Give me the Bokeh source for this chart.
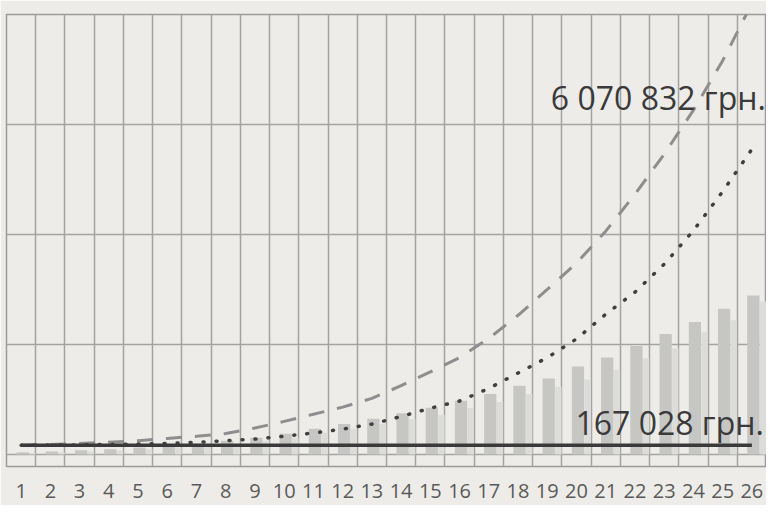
from bokeh.plotting import figure
from bokeh.models import ColumnDataSource, FixedTicker, Label, Range1d
from bokeh.transform import dodge
from bokeh.embed import file_html
from bokeh.resources import INLINE

# ---- data ----
years = list(range(1, 27))
annual = [167028, 167028, 167028, 167028, 167028, 167028, 167028, 167028, 167028,
          167028, 167028, 167028, 167028, 167028, 167028, 167028, 167028, 167028,
          167028, 167028, 167028, 167028, 167028, 167028, 167028, 167028]
bars_main = [40000, 55000, 75000, 95000, 125000, 160000, 200000, 250000, 305000, 375000,
             465000, 555000, 650000, 750000, 850000, 975000, 1100000, 1250000, 1380000,
             1600000, 1760000, 1970000, 2190000, 2410000, 2650000, 2890000]
bars_light = [20000, 35000, 55000, 70000, 95000, 125000, 160000, 200000, 250000, 305000,
              395000, 470000, 555000, 640000, 715000, 845000, 955000, 1100000, 1230000,
              1360000, 1540000, 1750000, 1930000, 2220000, 2440000, 2780000]
dotted = [167028, 170000, 174000, 180000, 188000, 200000, 220000, 250000, 280000, 330000,
          390000, 460000, 550000, 690000, 840000, 970000, 1200000, 1480000, 1760000,
          2100000, 2550000, 2950000, 3460000, 4070000, 4780000, 5550000]
dashed = [167028, 180000, 200000, 220000, 250000, 290000, 330000, 380000, 480000, 600000,
          730000, 860000, 1020000, 1250000, 1500000, 1760000, 2110000, 2530000, 3000000,
          3480000, 4060000, 4730000, 5460000, 6260000, 7160000, 8200000]
y_ticks = [0, 2000000, 4000000, 6000000, 8000000]
top_value = 6070832
base_value = 167028

def fmt(v):
    return f"{v:,}".replace(",", " ") + " грн."

src = ColumnDataSource(dict(x=years, a=bars_main, b=bars_light, d=dotted, s=dashed, c=annual))

bg = "#edece8"
p = figure(width=766, height=505, output_backend="svg", toolbar_location=None,
           x_range=Range1d(years[0] - 0.5, years[-1] + 0.5),
           y_range=Range1d(-220000, y_ticks[-1]),
           min_border_left=6, min_border_right=0, min_border_top=14, min_border_bottom=39,
           background_fill_color=bg, border_fill_color=bg)

p.outline_line_color = "#9a9a9a"
p.outline_line_width = 1.5

p.xgrid.ticker = FixedTicker(ticks=[y - 0.5 for y in years] + [years[-1] + 0.5])
p.ygrid.ticker = FixedTicker(ticks=y_ticks)
p.xgrid.grid_line_color = "#a3a3a3"
p.ygrid.grid_line_color = "#a3a3a3"
p.xgrid.grid_line_width = 1.5
p.ygrid.grid_line_width = 1.5

p.yaxis.visible = False
p.xaxis.ticker = FixedTicker(ticks=years)
p.xaxis.axis_line_color = None
p.xaxis.major_tick_line_color = None
p.xaxis.minor_tick_line_color = None
p.xaxis.major_tick_out = 0
p.xaxis.major_label_standoff = 17
p.xaxis.major_label_text_font = "Open Sans"
p.xaxis.major_label_text_font_size = "20px"
p.xaxis.major_label_text_color = "#5a5a5a"

p.vbar(x=dodge("x", 0.38), top="b", width=0.22, source=src,
       fill_color="#dcdcd9", line_color=None)
p.vbar(x=dodge("x", 0.05), top="a", width=0.42, source=src,
       fill_color="#c6c6c4", line_color=None)

p.line("x", "s", source=src, line_color="#8e8e8e", line_width=3, line_dash="16 13")
p.line("x", "d", source=src, line_color="#404040", line_width=3.5, line_dash="1 12",
       line_cap="round")
p.line("x", "c", source=src, line_color="#3a3a3a", line_width=3.5)

p.add_layout(Label(x=years[-1], y=top_value, text=fmt(top_value), text_align="right",
                   text_baseline="alphabetic", x_offset=14, y_offset=23,
                   text_font="Open Sans", text_font_size="32px", text_color="#3a3a3a"))
p.add_layout(Label(x=years[-1], y=base_value, text=fmt(base_value), text_align="right",
                   text_baseline="alphabetic", x_offset=12, y_offset=23,
                   text_font="Open Sans", text_font_size="32px", text_color="#3a3a3a"))

open("out.html", "w").write(file_html(p, INLINE))
